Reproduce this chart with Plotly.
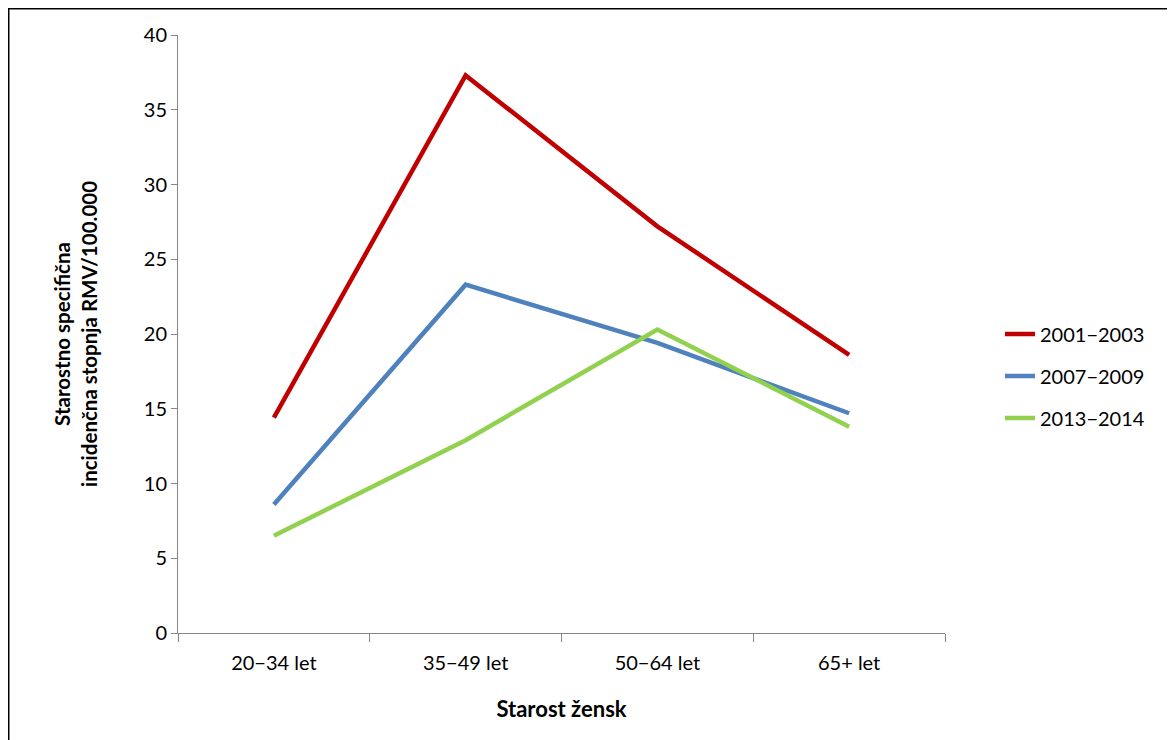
import plotly.graph_objects as go

categories = ["20\u221234 let", "35\u221249 let", "50\u221264 let", "65+ let"]
series_names = ["2001\u22122003", "2007\u22122009", "2013\u22122014"]
values_2001_2003 = [14.4, 37.3, 27.2, 18.6]
values_2007_2009 = [8.6, 23.3, 19.4, 14.7]
values_2013_2014 = [6.5, 12.9, 20.3, 13.8]
colors = ["#C00000", "#4F81BD", "#92D050"]
y_ticks = [0, 5, 10, 15, 20, 25, 30, 35, 40]

FONT = "Lato, 'Open Sans', sans-serif"

fig = go.Figure()
for name, vals, col in zip(series_names, [values_2001_2003, values_2007_2009, values_2013_2014], colors):
    fig.add_trace(go.Scatter(x=categories, y=vals, mode="lines", name=name,
                             legendgroup=name,
                             line=dict(color=col, width=4.5)))

# figure coordinates (page body adds an 8px offset)
W, H = 1175, 740
L, R, T, B = 170, 937, 27, 625
fig.update_layout(
    width=W, height=H,
    margin=dict(l=L, r=W - R, t=T, b=H - B, autoexpand=False),
    plot_bgcolor="white", paper_bgcolor="white",
    font=dict(family=FONT, size=20, color="#000000"),
    showlegend=True,
    legend=dict(x=(992 - L) / (R - L), y=(B - 368) / (B - T), xanchor="left", yanchor="middle",
                font=dict(size=20), tracegroupgap=13),
    xaxis=dict(type="category", range=[-0.5, 3.5], showline=True, linecolor="#868686",
               linewidth=1, ticks="outside", tickson="boundaries", ticklen=8,
               tickcolor="#868686", showgrid=False, zeroline=False,
               tickfont=dict(size=20), ticklabelstandoff=12,
               title=dict(text="<b>Starost žensk</b>", font=dict(size=22), standoff=28)),
    yaxis=dict(range=[0, 40], tickvals=y_ticks, showline=True, linecolor="#868686",
               linewidth=1, ticks="outside", ticklen=6, tickcolor="#868686",
               showgrid=False, zeroline=False, tickfont=dict(size=20),
               title=dict(text="<b>Starostno specifična<br>incidenčna stopnja RMV/100.000</b>",
                          font=dict(size=20.5), standoff=40)),
)

pw, ph = R - L, B - T
def px_x(p):
    return (p - L) / pw
def px_y(p):
    return (B - p) / ph

fig.add_shape(type="rect", xref="paper", yref="paper",
              x0=px_x(0.75), x1=px_x(1185), y0=px_y(745), y1=px_y(0.75),
              line=dict(color="#000000", width=1.5), fillcolor="rgba(0,0,0,0)", layer="below")

fig.write_html("out.html")
